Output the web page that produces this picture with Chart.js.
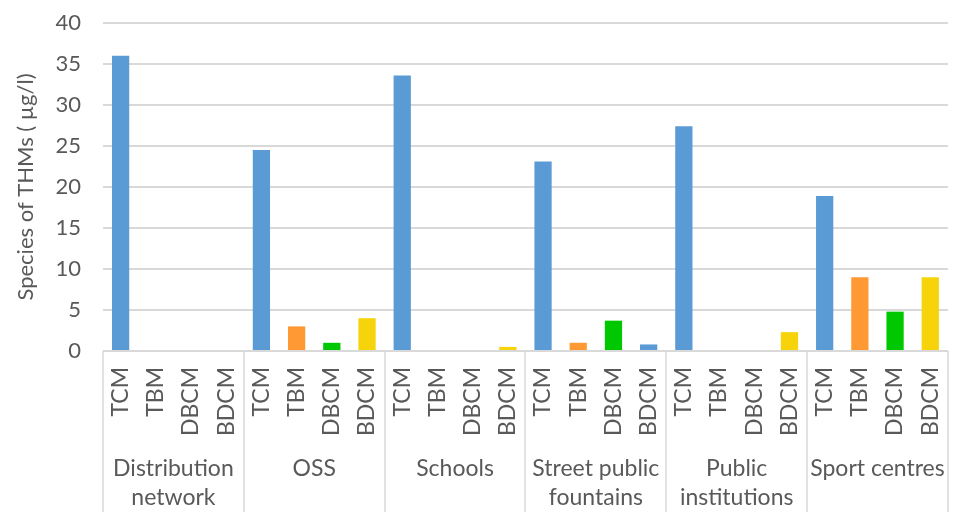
<!DOCTYPE html>
<html>
<head>
<meta charset="utf-8">
<script src="https://cdn.jsdelivr.net/npm/chart.js@4.4.1/dist/chart.umd.min.js"></script>
<style>
  html, body { margin: 0; padding: 0; background: #fff; }
  #wrap { width: 974px; height: 512px; }
</style>
</head>
<body>
<div id="wrap"><canvas id="chart"></canvas></div>
<script>
// sites (group labels, split into lines) and compounds
const sites = [
  ["Distribution", "network"],
  ["OSS"],
  ["Schools"],
  ["Street public", "fountains"],
  ["Public", "institutions"],
  ["Sport centres"]
];
const compounds = ["TCM", "TBM", "DBCM", "BDCM"];

// values per compound, one per site (µg/l)
const tcm  = [36, 24.5, 33.6, 23.1, 27.4, 18.9];
const tbm  = [0, 3, 0, 1, 0, 9];
const dbcm = [0, 1, 0, 3.7, 0, 4.8];
const bdcm = [0, 4, 0.5, 0.8, 2.3, 9];

const yTicks = [0, 5, 10, 15, 20, 25, 30, 35, 40];

const compoundColors = ["#5B9BD5", "#FF9933", "#00C800", "#F6D30A"];
const textColor = "#595959";
const lineColor = "#D9D9D9";
const font = "Lato";

// flatten into one category per site/compound
const series = [tcm, tbm, dbcm, bdcm];
const labels = [];
const values = [];
const colors = [];
sites.forEach((s, i) => {
  compounds.forEach((c, j) => {
    labels.push(c);
    values.push(series[j][i]);
    colors.push(compoundColors[j]);
  });
});
// the street fountains BDCM bar is blue in the original figure
colors[3 * 4 + 3] = compoundColors[0];

// draws the site names and the separators under the axis
const groupLabels = {
  id: "groupLabels",
  afterDraw(chart) {
    const { ctx } = chart;
    const x = chart.scales.x;
    const top = chart.chartArea.bottom;
    const bottom = chart.height;
    const step = x.getPixelForTick(1) - x.getPixelForTick(0);
    ctx.save();
    ctx.strokeStyle = lineColor;
    ctx.lineWidth = 1.5;
    for (let i = 0; i <= sites.length; i++) {
      const px = Math.round(x.getPixelForTick(Math.min(i * 4, labels.length - 1)) + (i * 4 >= labels.length ? step / 2 : -step / 2));
      ctx.beginPath();
      ctx.moveTo(px, top);
      ctx.lineTo(px, bottom);
      ctx.stroke();
    }
    ctx.fillStyle = textColor;
    ctx.font = "23px " + font;
    ctx.textAlign = "center";
    ctx.textBaseline = "middle";
    sites.forEach((lines, i) => {
      const cx = (x.getPixelForTick(i * 4) + x.getPixelForTick(i * 4 + 3)) / 2;
      lines.forEach((t, k) => {
        ctx.fillText(t, cx, 469 + k * 29);
      });
    });
    ctx.restore();
  }
};

new Chart(document.getElementById("chart"), {
  type: "bar",
  data: {
    labels: labels,
    datasets: [{
      data: values,
      backgroundColor: colors,
      borderWidth: 0,
      barPercentage: 0.49,
      categoryPercentage: 1
    }]
  },
  options: {
    responsive: true,
    maintainAspectRatio: false,
    animation: false,
    layout: { padding: { top: 0, right: 6, left: 0, bottom: 0 } },
    plugins: {
      legend: { display: false },
      tooltip: { enabled: false }
    },
    scales: {
      x: {
        grid: { display: false, drawTicks: false },
        border: { display: false },
        ticks: {
          autoSkip: false,
          minRotation: 90,
          maxRotation: 90,
          padding: 16,
          color: textColor,
          font: { family: font, size: 23 }
        },
        afterFit: (s) => { s.height = 161; }
      },
      y: {
        min: 0,
        max: 40,
        afterBuildTicks: (s) => { s.ticks = yTicks.map(v => ({ value: v })); },
        grid: { color: lineColor, lineWidth: 2, drawTicks: false },
        border: { display: false },
        ticks: {
          padding: 22,
          color: textColor,
          font: { family: font, size: 22 }
        },
        title: {
          display: true,
          text: "Species of THMs ( µg/l)",
          color: textColor,
          font: { family: font, size: 22 },
          padding: { top: 13, bottom: 0 }
        },
        afterFit: (s) => { s.width = 103; s.paddingTop = 23; s.paddingBottom = 0; }
      }
    }
  },
  plugins: [groupLabels]
});
</script>
</body>
</html>
